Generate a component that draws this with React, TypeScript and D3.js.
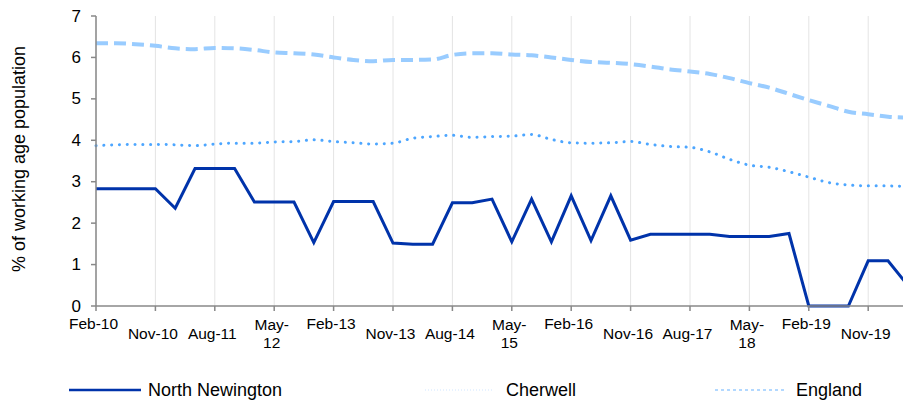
import React from "react";
import * as d3 from "d3";

const xTickLabels = ["Feb-10","Nov-10","Aug-11","May-12","Feb-13","Nov-13","Aug-14","May-15","Feb-16","Nov-16","Aug-17","May-18","Feb-19","Nov-19"];
const yTicks = [0,1,2,3,4,5,6,7];

const northNewington = [2.83,2.83,2.83,2.83,2.36,3.32,3.32,3.32,2.51,2.51,2.51,1.53,2.52,2.52,2.52,1.52,1.49,1.49,2.49,2.49,2.58,1.55,2.58,1.55,2.66,1.58,2.66,1.59,1.73,1.73,1.73,1.73,1.68,1.68,1.68,1.75,0,0,0,1.09,1.09,0.5];
const cherwell = [3.87,3.89,3.90,3.90,3.89,3.87,3.91,3.93,3.93,3.96,3.97,4.01,3.97,3.94,3.91,3.93,4.05,4.09,4.12,4.07,4.09,4.10,4.14,4.02,3.94,3.93,3.94,3.97,3.90,3.85,3.83,3.72,3.54,3.40,3.35,3.24,3.11,2.98,2.92,2.90,2.90,2.88];
const england = [6.34,6.34,6.32,6.28,6.22,6.20,6.23,6.22,6.18,6.12,6.10,6.07,6.00,5.94,5.91,5.94,5.94,5.95,6.06,6.10,6.10,6.07,6.05,6.00,5.94,5.89,5.87,5.84,5.78,5.71,5.66,5.60,5.50,5.38,5.27,5.12,4.97,4.83,4.69,4.63,4.57,4.55];
const seriesNames = ["North Newington","Cherwell","England"];

const W = 903, H = 401;
const FONT = "'Liberation Sans', Arial, sans-serif";

export default function App() {
  const x = d3.scaleLinear().domain([0, 39]).range([96, 868.2]);
  const y = d3.scaleLinear().domain([0, 7]).range([306, 16]);
  const straight = d3.line<number>().x((_, i) => x(i)).y(d => y(d));
  const smooth = d3.line<number>().x((_, i) => x(i)).y(d => y(d)).curve(d3.curveMonotoneX);
  const tickIdx = xTickLabels.map((_, i) => i * 3);

  const labelY = (lab: string) => (lab.startsWith("Feb") ? 329 : lab.startsWith("May") ? 330 : 339);

  return (
    <svg width={W} height={H} style={{ position: "absolute", left: 0, top: 0, fontFamily: FONT }}>
      <rect width={W} height={H} fill="#fff" />
      {/* gridlines */}
      {tickIdx.map(i => (
        <line key={"g"+i} x1={x(i)} x2={x(i)} y1={y(7)} y2={y(0)} stroke="#e4e4e4" strokeWidth={1} />
      ))}
      {/* series */}
      <path d={smooth(england) || ""} fill="none" stroke="#99ccff" strokeWidth={4} strokeDasharray="12 6" />
      <path d={smooth(cherwell) || ""} fill="none" stroke="#4da6ff" strokeWidth={3} strokeDasharray="0.1 7.7" strokeLinecap="round" />
      <path d={straight(northNewington) || ""} fill="none" stroke="#0033aa" strokeWidth={3} strokeLinejoin="miter" />
      {/* y axis */}
      <line x1={96} x2={96} y1={y(7)} y2={y(0)} stroke="#888" strokeWidth={1.5} />
      {yTicks.map(t => (
        <g key={"y"+t}>
          <line x1={91} x2={96} y1={y(t)} y2={y(t)} stroke="#888" strokeWidth={1.5} />
          <text x={81} y={y(t)} textAnchor="end" dominantBaseline="central" fontSize={17} fill="#000">{t}</text>
        </g>
      ))}
      {/* x axis */}
      <line x1={96} x2={W} y1={y(0)} y2={y(0)} stroke="#888" strokeWidth={1.5} />
      {tickIdx.map((i, k) => {
        const lab = xTickLabels[k];
        const parts = lab.startsWith("May") ? [lab.slice(0, 4), lab.slice(4)] : [lab];
        return (
          <g key={"x"+i}>
            <line x1={x(i)} x2={x(i)} y1={y(0)} y2={y(0) + 5} stroke="#888" strokeWidth={1.5} />
            {parts.map((p, j) => (
              <text key={j} x={x(i) - 2.5} y={labelY(lab) + j * 18} textAnchor="middle" fontSize={15.5} fill="#000">{p}</text>
            ))}
          </g>
        );
      })}
      {/* y title */}
      <text transform="translate(25,159) rotate(-90)" textAnchor="middle" fontSize={18} fill="#000">% of working age population</text>
      {/* legend */}
      <line x1={69} x2={141} y1={390} y2={390} stroke="#0033aa" strokeWidth={2.5} />
      <text x={148} y={396} fontSize={18} fill="#000">{seriesNames[0]}</text>
      <line x1={425} x2={493} y1={390} y2={390} stroke="#cfe5ff" strokeWidth={1} strokeDasharray="1 2" />
      <text x={506} y={396} fontSize={18} fill="#000">{seriesNames[1]}</text>
      <line x1={715} x2={784} y1={390} y2={390} stroke="#99ccff" strokeWidth={1.5} strokeDasharray="3 3" />
      <text x={796} y={396} fontSize={18} fill="#000">{seriesNames[2]}</text>
    </svg>
  );
}
